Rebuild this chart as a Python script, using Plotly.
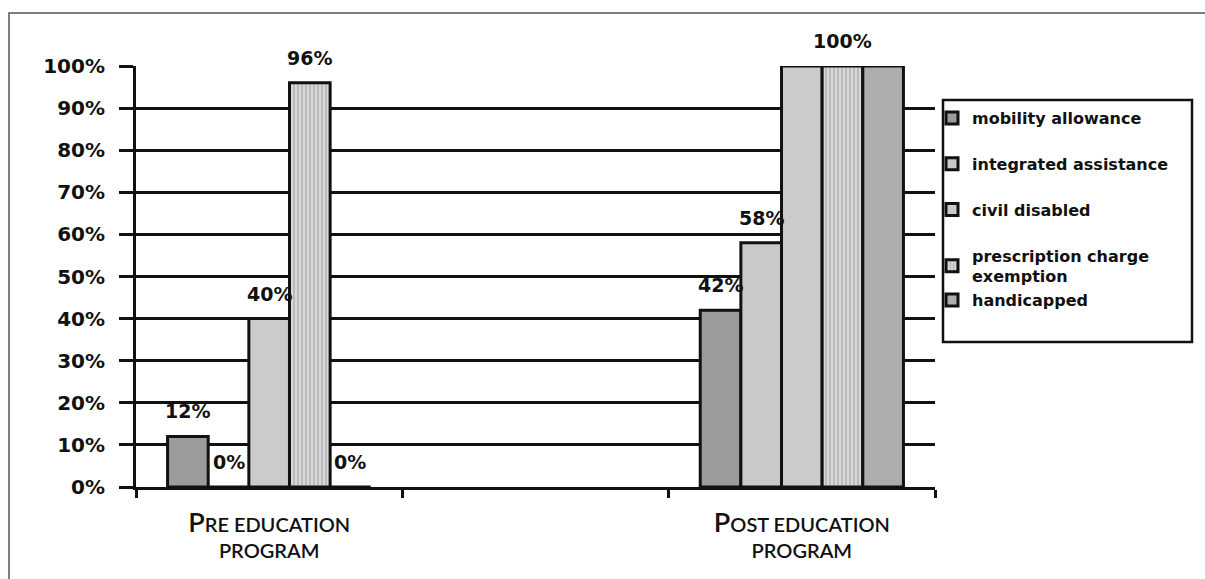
import plotly.graph_objects as go

# Groups on the x axis (middle slot left empty)
groups = [("Pre education", "program"), (" ", ""), ("Post education", "program")]

# Benefit types (series)
series_names = [
    "mobility allowance",
    "integrated assistance",
    "civil disabled",
    "prescription charge<br>exemption",
    "handicapped",
]

# Percentage of patients holding each benefit, pre and post programme
pre_values = [12, 0, 40, 96, 0]
post_values = [42, 58, 100, 100, 100]

# Which bars carry a value label (only one of the three 100% bars is labelled)
pre_labelled = [True, True, True, True, True]
post_labelled = [True, True, False, True, False]

y_ticks = list(range(0, 101, 10))

# Page geometry (pixels)
W, H = 1205, 579
ML, MR, MT, MB = 136, 270, 66, 92
PW, PH = W - ML - MR, H - MT - MB
BARGAP = 0.237

BOLD_FONT = "DejaVu Sans, Verdana, sans-serif"


def px_x(px):
    return (px - ML) / PW


def px_y(py):
    return (H - MB - py) / PH


def small_caps(lines, big=27):
    if not lines[0].strip():
        return lines[0]
    first = lines[0]
    out = f"<span style='font-size:{big}px'>{first[0].upper()}</span>" + first[1:].upper()
    for ln in lines[1:]:
        out += "<br>" + ln.upper()
    return out


cat_labels = [small_caps(g) for g in groups]
pre_cat, post_cat = cat_labels[0], cat_labels[2]

fills = ["#9b9b9b", "#c9c9c9", "#cbcbcb", "#d4d4d4", "#adadad"]
legend_groups = ["a", "b", "c", "d", "d"]

fig = go.Figure()
for i, name in enumerate(series_names):
    marker = dict(color=fills[i], line=dict(color="#111111", width=3))
    if i == 3:
        marker["pattern"] = dict(shape="|", fgcolor="#a8a8a8", bgcolor="#d8d8d8",
                                 size=4, solidity=0.3, fillmode="replace")
    fig.add_trace(go.Bar(
        x=[pre_cat, post_cat],
        y=[pre_values[i], post_values[i]],
        name=name,
        marker=marker,
        legendgroup=legend_groups[i],
        cliponaxis=False,
    ))

# Value labels above bars, offset to each bar's slot inside its group
n = len(series_names)
bar_px = PW / len(groups) * (1 - BARGAP) / n
for cat, vals, flags in [(pre_cat, pre_values, pre_labelled), (post_cat, post_values, post_labelled)]:
    for i, (v, show) in enumerate(zip(vals, flags)):
        if not show:
            continue
        fig.add_annotation(
            x=cat, y=v, text=f"{v}%", showarrow=False,
            xshift=(i - (n - 1) / 2) * bar_px, yshift=25,
            font=dict(family=BOLD_FONT, size=19, color="#111111", weight="bold"),
            yanchor="middle", xanchor="center",
        )

# Outer frame and legend box
fig.add_shape(type="rect", xref="paper", yref="paper",
              x0=px_x(9), x1=px_x(W + 20), y0=px_y(H + 20), y1=px_y(13),
              line=dict(color="#555555", width=1.5), layer="below")
fig.add_shape(type="rect", xref="paper", yref="paper",
              x0=px_x(943), x1=px_x(1192), y0=px_y(342), y1=px_y(100),
              line=dict(color="#111111", width=2.5))

fig.update_layout(
    width=W, height=H,
    margin=dict(l=ML, r=MR, t=MT, b=MB, autoexpand=False),
    paper_bgcolor="white", plot_bgcolor="white",
    barmode="group", bargap=BARGAP, bargroupgap=0,
    font=dict(family=BOLD_FONT, color="#111111"),
    showlegend=True,
    legend=dict(
        x=px_x(932), y=px_y(101), xanchor="left", yanchor="top",
        font=dict(family=BOLD_FONT, size=16, color="#111111", weight="bold"),
        traceorder="grouped", tracegroupgap=22,
        bgcolor="rgba(0,0,0,0)", borderwidth=0,
    ),
    xaxis=dict(
        type="category", categoryorder="array", categoryarray=cat_labels,
        range=[-0.5, 2.5], tickson="boundaries", automargin=False,
        ticks="outside", ticklen=8, tickwidth=2.5, tickcolor="#111111",
        showline=True, linecolor="#111111", linewidth=3,
        showgrid=False, zeroline=False,
        tickfont=dict(family="Lato, Open Sans", size=20, color="#111111", weight=600),
        ticklabelstandoff=18,
    ),
    yaxis=dict(
        range=[0, 100], tickvals=y_ticks, ticktext=[f"{t}%" for t in y_ticks],
        automargin=False,
        ticks="outside", ticklen=14, tickwidth=2.5, tickcolor="#111111",
        showline=True, linecolor="#111111", linewidth=3,
        showgrid=True, gridcolor="#111111", gridwidth=2.5,
        zeroline=False,
        tickfont=dict(family=BOLD_FONT, size=20, color="#111111", weight="bold"),
        ticklabelstandoff=10,
    ),
)

fig.write_html("out.html")
